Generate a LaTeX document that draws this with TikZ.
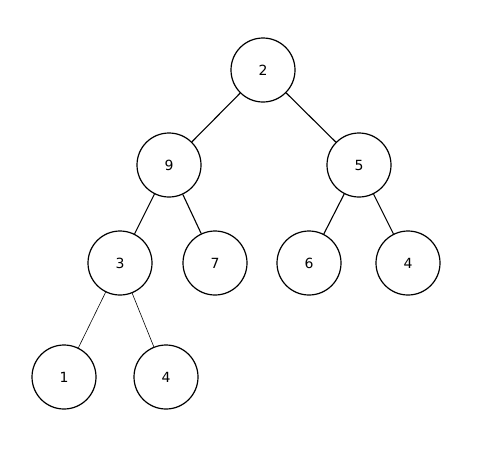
\documentclass[tikz,border=0pt]{standalone}
\usepackage{fontspec}
\setmainfont{DejaVu Sans}
\tikzset{heapnode/.style={circle,draw,line width=1.2pt,minimum size=64pt,inner sep=0pt,font=\fontsize{14}{16}\selectfont}}

\begin{document}
\begin{tikzpicture}[x=1pt,y=-1pt]
\useasboundingbox (0,0) rectangle (495,448);
\node[heapnode] (n2) at (263,70) {2};
\node[heapnode] (n9) at (169,165) {9};
\node[heapnode] (n5) at (359,165) {5};
\node[heapnode] (n3) at (120,263) {3};
\node[heapnode] (n7) at (215,263) {7};
\node[heapnode] (n6) at (309,263) {6};
\node[heapnode] (n4a) at (408,263) {4};
\node[heapnode] (n1) at (64,377) {1};
\node[heapnode] (n4b) at (166,377) {4};
\draw[line width=1.1pt] (n2) -- (n9);
\draw[line width=1.1pt] (n2) -- (n5);
\draw[line width=1.1pt] (n9) -- (n3);
\draw[line width=1.1pt] (n9) -- (n7);
\draw[line width=1.1pt] (n5) -- (n6);
\draw[line width=1.1pt] (n5) -- (n4a);
%\draw (n3) -- (n1);
\draw[line width=0.6pt] (n3) -- (n1);
\draw[line width=0.6pt] (n3) -- (n4b);
\end{tikzpicture}
\end{document}
